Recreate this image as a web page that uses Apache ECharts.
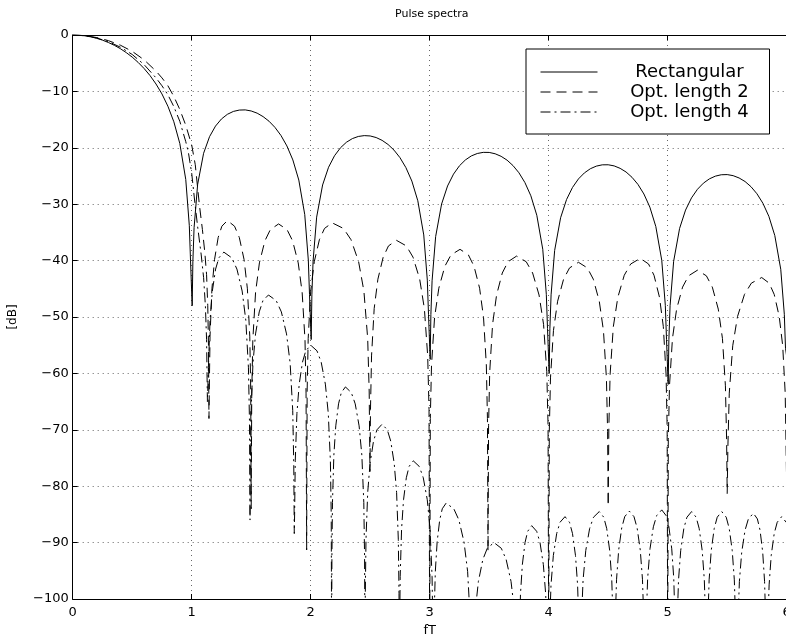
<!DOCTYPE html>
<html><head><meta charset="utf-8">
<script src="https://cdn.jsdelivr.net/npm/echarts@6/dist/echarts.min.js"></script>
<style>html,body{margin:0;padding:0;background:#fff}#c{width:786px;height:640px}</style>
</head><body><div id="c"></div>
<script>
const titleText = 'Pulse spectra';
const xName = 'fT';
const yName = '[dB]';
const seriesNames = ['Rectangular', 'Opt. length 2', 'Opt. length 4'];
const xMin = 0, xMax = 6, xStep = 1;
const yMin = -100, yMax = 0, yStep = 10;

// [fT, dB]
const rectangular = [
[0,0],[0.05,-0.04],[0.1,-0.14],[0.15,-0.32],[0.2,-0.58],[0.25,-0.91],[0.3,-1.33],[0.35,-1.83],[0.4,-2.42],[0.45,-3.12],[0.5,-3.92],[0.55,-4.86],[0.6,-5.94],[0.65,-7.2],[0.7,-8.69],[0.75,-10.45],[0.8,-12.63],[0.85,-15.39],[0.9,-19.23],[0.95,-25.61],[0.98,-33.81],[0.99,-39.92],[1.004,-48.0],
[1.01,-40.09],[1.02,-34.16],[1.05,-26.48],[1.1,-20.97],[1.15,-18.02],[1.2,-16.15],[1.25,-14.89],[1.3,-14.06],[1.35,-13.55],[1.4,-13.31],[1.45,-13.28],[1.5,-13.47],[1.55,-13.86],[1.6,-14.47],[1.65,-15.29],[1.7,-16.39],[1.75,-17.81],[1.8,-19.67],[1.85,-22.15],[1.9,-25.72],[1.95,-31.85],[1.98,-39.92],[1.99,-45.98],[2.004,-54.0],
[2.01,-46.07],[2.02,-40.09],[2.05,-32.29],[2.1,-26.59],[2.15,-23.45],[2.2,-21.41],[2.25,-20.0],[2.3,-19.02],[2.35,-18.37],[2.4,-17.99],[2.45,-17.84],[2.5,-17.9],[2.55,-18.18],[2.6,-18.68],[2.65,-19.41],[2.7,-20.41],[2.75,-21.74],[2.8,-23.51],[2.85,-25.9],[2.9,-29.39],[2.95,-35.45],[2.98,-43.47],[2.99,-49.52],[3.004,-57.52],
[3.01,-49.57],[3.02,-43.58],[3.05,-35.74],[3.1,-29.97],[3.15,-26.77],[3.2,-24.67],[3.25,-23.19],[3.3,-22.15],[3.35,-21.44],[3.4,-21.01],[3.45,-20.81],[3.5,-20.82],[3.55,-21.06],[3.6,-21.51],[3.65,-22.19],[3.7,-23.15],[3.75,-24.43],[3.8,-26.16],[3.85,-28.51],[3.9,-31.96],[3.95,-37.99],[3.98,-45.98],[3.99,-52.02],[4.004,-60.01],
[4.01,-52.07],[4.02,-46.07],[4.05,-38.2],[4.1,-32.4],[4.15,-29.17],[4.2,-27.03],[4.25,-25.52],[4.3,-24.45],[4.35,-23.71],[4.4,-23.25],[4.45,-23.02],[4.5,-23.01],[4.55,-23.21],[4.6,-23.64],[4.65,-24.29],[4.7,-25.23],[4.75,-26.49],[4.8,-28.19],[4.85,-30.52],[4.9,-33.95],[4.95,-39.95],[4.98,-47.93],[4.99,-53.97],[5.004,-61.95],
[5.01,-54.0],[5.02,-48.0],[5.05,-40.12],[5.1,-34.29],[5.15,-31.04],[5.2,-28.88],[5.25,-27.36],[5.3,-26.27],[5.35,-25.51],[5.4,-25.03],[5.45,-24.78],[5.5,-24.75],[5.55,-24.94],[5.6,-25.35],[5.65,-25.98],[5.7,-26.9],[5.75,-28.15],[5.8,-29.83],[5.85,-32.15],[5.9,-35.56],[5.95,-41.54],[5.98,-49.52],[5.99,-55.55],[6.0,-57]
];

const optLength2 = [
[0,0],[0.1,-0.1],[0.2,-0.45],[0.3,-1.0],[0.4,-1.8],[0.5,-2.9],[0.6,-4.4],[0.7,-6.4],[0.75,-7.6],[0.8,-9.0],[0.85,-10.9],[0.9,-13.2],[0.95,-16.0],[1.0,-19.5],[1.03,-23],[1.064,-30],[1.09,-34.5],[1.11,-38.5],[1.125,-42.5],[1.135,-48],[1.141,-55],[1.145,-68],
[1.148,-62.9],[1.154,-53.4],[1.17,-45.0],[1.192,-39.8],[1.2225,-35.9],[1.2535,-33.9],[1.3,-32.9],[1.36,-33.9],[1.4,-35.9],[1.44,-39.8],[1.468,-45.0],[1.488,-53.4],[1.496,-62.9],[1.5,-84],
[1.5046,-63.5],[1.5138,-54.0],[1.5368,-45.6],[1.569,-40.4],[1.615,-36.5],[1.661,-34.5],[1.73,-33.5],[1.801,-34.5],[1.848,-36.5],[1.895,-40.4],[1.928,-45.6],[1.952,-54.0],[1.961,-63.5],[1.966,-91.3],
[1.97,-63.3],[1.979,-53.8],[2.0,-45.4],[2.03,-40.2],[2.073,-36.3],[2.116,-34.3],[2.18,-33.3],[2.2754,-34.3],[2.339,-36.3],[2.4026,-40.2],[2.4471,-45.4],[2.4789,-53.8],[2.4916,-63.3],[2.498,-77.4],
[2.5024,-66.4],[2.5113,-56.9],[2.5335,-48.5],[2.5646,-43.3],[2.609,-39.4],[2.6534,-37.4],[2.72,-36.4],[2.804,-37.4],[2.86,-39.4],[2.916,-43.3],[2.9552,-48.5],[2.9832,-56.9],[2.9944,-66.4],[3.0,-110],
[3.0051,-68.0],[3.0153,-58.5],[3.0408,-50.1],[3.0765,-44.9],[3.1275,-41.0],[3.1785,-39.0],[3.255,-38.0],[3.3255,-39.0],[3.3725,-41.0],[3.4195,-44.9],[3.4524,-50.1],[3.4759,-58.5],[3.4853,-68.0],[3.49,-91.5],
[3.4948,-69.2],[3.5044,-59.7],[3.5284,-51.3],[3.562,-46.1],[3.61,-42.2],[3.658,-40.2],[3.73,-39.2],[3.811,-40.2],[3.865,-42.2],[3.919,-46.1],[3.9568,-51.3],[3.9838,-59.7],[3.9946,-69.2],[4.0,-110],
[4.005,-70.3],[4.015,-60.8],[4.04,-52.4],[4.075,-47.2],[4.125,-43.3],[4.175,-41.3],[4.25,-40.3],[4.325,-41.3],[4.375,-43.3],[4.425,-47.2],[4.46,-52.4],[4.485,-60.8],[4.495,-70.3],[4.5,-83.5],
[4.5054,-69.6],[4.5162,-60.1],[4.5432,-51.7],[4.581,-46.5],[4.635,-42.6],[4.689,-40.6],[4.77,-39.6],[4.839,-40.6],[4.885,-42.6],[4.931,-46.5],[4.9632,-51.7],[4.9862,-60.1],[4.9954,-69.6],[5.0,-110],
[5.005,-71.7],[5.015,-62.2],[5.04,-53.8],[5.075,-48.6],[5.125,-44.7],[5.175,-42.7],[5.25,-41.7],[5.325,-42.7],[5.375,-44.7],[5.425,-48.6],[5.46,-53.8],[5.485,-62.2],[5.495,-71.7],[5.5,-81.3],
[5.5058,-73.0],[5.5174,-63.5],[5.5464,-55.1],[5.587,-49.9],[5.645,-46.0],[5.703,-44.0],[5.79,-43.0],[5.853,-44.0],[5.895,-46.0],[5.937,-49.9],[5.9664,-55.1],[5.9874,-63.5],[6.0,-80]
];

const optLength4 = [
[0,0],[0.1,-0.13],[0.2,-0.51],[0.3,-1.18],[0.4,-2.15],[0.5,-3.45],[0.6,-5.25],[0.7,-7.6],[0.75,-9.0],[0.8,-10.6],[0.85,-12.7],[0.9,-15.3],[0.95,-18.9],[0.972,-20.8],[1.0,-24.5],[1.028,-30],[1.05,-34],[1.08,-39],[1.1,-43],[1.115,-48],[1.125,-54],[1.132,-65],
[1.1403,-59.0],[1.1541,-50.6],[1.1734,-45.4],[1.201,-41.5],[1.2286,-39.5],[1.27,-38.5],[1.336,-39.5],[1.38,-41.5],[1.424,-45.4],[1.4548,-50.6],[1.4768,-59.0],[1.4856,-68.5],[1.49,-86],
[1.4931,-76.1],[1.4993,-66.6],[1.5148,-58.2],[1.5365,-53.0],[1.5675,-49.1],[1.5985,-47.1],[1.645,-46.1],[1.7101,-47.1],[1.7535,-49.1],[1.7969,-53.0],[1.8273,-58.2],[1.849,-66.6],[1.8577,-76.1],[1.862,-88.4],
[1.8648,-85.0],[1.8703,-75.5],[1.8841,-67.1],[1.9034,-61.9],[1.931,-58.0],[1.9586,-56.0],[2.0,-55.0],[2.0528,-56.0],[2.088,-58.0],[2.1232,-61.9],[2.1478,-67.1],[2.1654,-75.5],[2.1725,-85.0],[2.176,-110],
[2.1783,-92.4],[2.183,-82.9],[2.1946,-74.5],[2.2108,-69.3],[2.234,-65.4],[2.2572,-63.4],[2.292,-62.4],[2.3412,-63.4],[2.374,-65.4],[2.4068,-69.3],[2.4298,-74.5],[2.4462,-82.9],[2.4527,-92.4],[2.456,-110],
[2.4589,-99.0],[2.4646,-89.5],[2.479,-81.1],[2.4992,-75.9],[2.528,-72.0],[2.5568,-70.0],[2.6,-69.0],[2.6435,-70.0],[2.6725,-72.0],[2.7015,-75.9],[2.7218,-81.1],[2.7363,-89.5],[2.7421,-99.0],[2.745,-110],
[2.7473,-105.5],[2.752,-96.0],[2.7637,-87.6],[2.7801,-82.4],[2.8035,-78.5],[2.8269,-76.5],[2.862,-75.5],[2.9124,-76.5],[2.946,-78.5],[2.9796,-82.4],[3.0031,-87.6],[3.0199,-96.0],[3.0266,-105.5],[3.03,-115],
[3.0322,-113],[3.0365,-103.5],[3.0473,-95.1],[3.0624,-89.9],[3.084,-86.0],[3.1056,-84.0],[3.138,-83.0],[3.2025,-84.0],[3.2455,-86.0],[3.2885,-89.9],[3.3186,-95.1],[3.3401,-103.5],[3.3487,-113],[3.353,-120],
[3.3642,-110.5],[3.3829,-102.1],[3.4091,-96.9],[3.4465,-93.0],[3.4839,-91.0],[3.54,-90.0],[3.6015,-91.0],[3.6425,-93.0],[3.6835,-96.9],[3.7122,-102.1],[3.7327,-110.5],[3.745,-120],
[3.7517,-107.5],[3.7629,-99.1],[3.7786,-93.9],[3.801,-90.0],[3.8234,-88.0],[3.857,-87.0],[3.899,-88.0],[3.927,-90.0],[3.955,-93.9],[3.9746,-99.1],[3.9886,-107.5],[3.997,-120],
[4.0054,-105.9],[4.0194,-97.5],[4.039,-92.3],[4.067,-88.4],[4.095,-86.4],[4.137,-85.4],[4.1748,-86.4],[4.2,-88.4],[4.2252,-92.3],[4.2428,-97.5],[4.2554,-105.9],[4.263,-120],
[4.2727,-105.0],[4.2889,-96.6],[4.3116,-91.4],[4.344,-87.5],[4.3764,-85.5],[4.425,-84.5],[4.4625,-85.5],[4.4875,-87.5],[4.5125,-91.4],[4.53,-96.6],[4.5425,-105.0],[4.55,-120],
[4.5576,-104.9],[4.5703,-96.5],[4.5881,-91.3],[4.6135,-87.4],[4.6389,-85.4],[4.677,-84.4],[4.7166,-85.4],[4.743,-87.4],[4.7694,-91.3],[4.7879,-96.5],[4.8011,-104.9],[4.809,-120],
[4.8175,-104.7],[4.8316,-96.3],[4.8513,-91.1],[4.8795,-87.2],[4.9077,-85.2],[4.95,-84.2],[4.986,-85.2],[5.01,-87.2],[5.034,-91.1],[5.0508,-96.3],[5.0628,-104.7],[5.07,-120],
[5.0779,-105.0],[5.091,-96.6],[5.1093,-91.4],[5.1355,-87.5],[5.1617,-85.5],[5.201,-84.5],[5.2391,-85.5],[5.2645,-87.5],[5.2899,-91.4],[5.3077,-96.6],[5.3204,-105.0],[5.328,-120],
[5.3356,-105.0],[5.3482,-96.6],[5.3658,-91.4],[5.391,-87.5],[5.4162,-85.5],[5.454,-84.5],[5.4918,-85.5],[5.517,-87.5],[5.5422,-91.4],[5.5598,-96.6],[5.5724,-105.0],[5.58,-120],
[5.5884,-105.3],[5.6024,-96.9],[5.622,-91.7],[5.65,-87.8],[5.678,-85.8],[5.72,-84.8],[5.7536,-85.8],[5.776,-87.8],[5.7984,-91.7],[5.8141,-96.9],[5.8253,-105.3],[5.832,-120],
[5.8396,-105.9],[5.8522,-97.5],[5.8698,-92.3],[5.895,-88.4],[5.9202,-86.4],[5.958,-85.4],[6.0,-86.5]
];

const FONT = 'DejaVu Sans';
const chart = echarts.init(document.getElementById('c'), null, {renderer: 'canvas'});
const gridStyle = {color: '#666', width: 1, type: [1, 4]};
const lineCommon = {type: 'line', showSymbol: false, symbol: 'none', clip: true, smooth: false};

chart.setOption({
  animation: false,
  backgroundColor: '#fff',
  title: {
    text: titleText, left: 390, top: 4,
    textStyle: {fontFamily: FONT, fontSize: 11, fontWeight: 'normal', color: '#000'}
  },
  grid: {left: 72.7, top: 35, width: 714, height: 564, containLabel: false, outerBoundsMode: 'none'},
  legend: {
    data: seriesNames,
    orient: 'vertical', left: 526, top: 49,
    padding: [14, 18, 13, 14],
    itemWidth: 57, itemHeight: 18, itemGap: 2,
    backgroundColor: '#fff', borderColor: '#000', borderWidth: 1,
    itemStyle: {opacity: 0},
    lineStyle: {width: 1},
    formatter: function (n) { return '{n|' + n + '}'; },
    textStyle: {
      fontFamily: FONT, fontSize: 18, color: '#000',
      rich: {n: {fontFamily: FONT, fontSize: 18, color: '#000', width: 124, align: 'center', lineHeight: 18, padding: [0, 0, 0, 25]}}
    }
  },
  xAxis: [{
    type: 'value', min: xMin, max: xMax, interval: xStep,
    name: xName, nameLocation: 'middle', nameGap: 24,
    nameTextStyle: {fontFamily: FONT, fontSize: 13, color: '#000'},
    axisLine: {show: true, onZero: false, lineStyle: {color: '#000', width: 1}},
    axisTick: {show: true, inside: true, length: 5, lineStyle: {color: '#000'}},
    axisLabel: {fontFamily: FONT, fontSize: 13, color: '#000', margin: 7},
    splitLine: {show: true, lineStyle: gridStyle}
  }, {
    type: 'value', min: xMin, max: xMax, interval: xStep, position: 'top',
    axisLine: {show: true, onZero: false, lineStyle: {color: '#000', width: 1}},
    axisTick: {show: true, inside: true, length: 5, lineStyle: {color: '#000'}},
    axisLabel: {show: false}, splitLine: {show: false}
  }],
  yAxis: [{
    type: 'value', min: yMin, max: yMax, interval: yStep,
    name: yName, nameLocation: 'middle', nameGap: 54, nameRotate: 90,
    nameTextStyle: {fontFamily: FONT, fontSize: 12, color: '#000'},
    axisLine: {show: true, onZero: false, lineStyle: {color: '#000', width: 1}},
    axisTick: {show: true, inside: true, length: 5, lineStyle: {color: '#000'}},
    axisLabel: {fontFamily: FONT, fontSize: 13, color: '#000', margin: 4,
      formatter: function (v) { return String(v).replace('-', '\u2212'); }},
    splitLine: {show: true, lineStyle: gridStyle}
  }],
  series: [
    Object.assign({}, lineCommon, {name: seriesNames[0], data: rectangular, lineStyle: {color: '#000', width: 1, type: 'solid'}, itemStyle: {color: '#000'}}),
    Object.assign({}, lineCommon, {name: seriesNames[1], data: optLength2, lineStyle: {color: '#000', width: 1, type: [10, 6]}, itemStyle: {color: '#000'}}),
    Object.assign({}, lineCommon, {name: seriesNames[2], data: optLength4, lineStyle: {color: '#000', width: 1, type: [10, 4, 2, 4]}, itemStyle: {color: '#000'}})
  ]
});
</script>
</body></html>
